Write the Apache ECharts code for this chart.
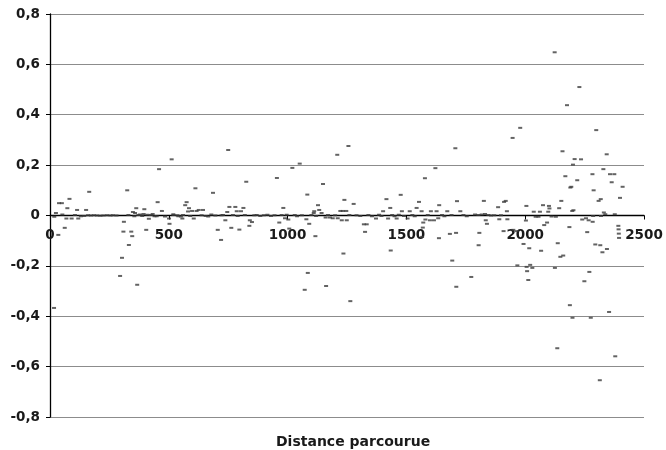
<!DOCTYPE html>
<html>
<head>
<meta charset="utf-8">
<script src="https://cdn.jsdelivr.net/npm/echarts@6/dist/echarts.min.js"></script>
<style>
  html, body { margin: 0; padding: 0; background: #fff; }
  #container { width: 666px; height: 450px; }
</style>
</head>
<body>
<div id="container"></div>
<script>
var distance = [
    17, 18, 25, 35, 38, 50, 52, 62, 69, 73, 82, 91, 105, 114, 119, 130, 144, 152, 160, 165,
    172, 185, 198, 212, 225, 240, 255, 265, 280, 295, 303, 309, 311, 325, 330, 332, 342, 346, 349, 355,
    358, 363, 367, 372, 379, 388, 394, 397, 405, 410, 416, 425, 432, 440, 449, 453, 459, 471, 484, 501,
    503, 512, 519, 520, 536, 540, 551, 557, 560, 569, 575, 581, 585, 590, 598, 605, 612, 617, 626, 638,
    644, 655, 666, 679, 686, 696, 706, 720, 722, 728, 738, 746, 750, 755, 763, 770, 780, 786, 790, 797,
    804, 814, 820, 826, 839, 841, 850, 860, 870, 885, 900, 915, 930, 945, 955, 965, 975, 982, 989, 996,
    1003, 1007, 1020, 1030, 1040, 1051, 1060, 1072, 1079, 1083, 1085, 1091, 1100, 1110, 1112, 1117, 1120, 1128, 1133, 1143,
    1149, 1160, 1162, 1170, 1178, 1190, 1200, 1209, 1211, 1222, 1228, 1233, 1235, 1239, 1247, 1249, 1256, 1260, 1264, 1278,
    1290, 1306, 1321, 1326, 1333, 1340, 1355, 1372, 1385, 1395, 1402, 1416, 1423, 1432, 1434, 1440, 1450, 1459, 1468, 1476,
    1481, 1490, 1505, 1514, 1525, 1535, 1543, 1553, 1564, 1566, 1569, 1571, 1578, 1580, 1590, 1599, 1603, 1616, 1622, 1627,
    1634, 1637, 1638, 1650, 1660, 1672, 1683, 1690, 1693, 1706, 1709, 1710, 1713, 1727, 1740, 1754, 1773, 1789, 1803, 1804,
    1807, 1817, 1826, 1831, 1834, 1839, 1845, 1856, 1870, 1886, 1891, 1898, 1909, 1911, 1918, 1923, 1925, 1947, 1950, 1964,
    1967, 1979, 1993, 2003, 2005, 2006, 2008, 2013, 2017, 2021, 2030, 2036, 2044, 2056, 2062, 2067, 2075, 2080, 2092, 2097,
    2100, 2102, 2111, 2124, 2125, 2129, 2135, 2137, 2143, 2148, 2152, 2157, 2160, 2169, 2176, 2186, 2188, 2190, 2194, 2198,
    2199, 2201, 2203, 2208, 2219, 2228, 2235, 2240, 2249, 2256, 2261, 2267, 2270, 2276, 2283, 2284, 2286, 2288, 2295, 2299,
    2309, 2314, 2316, 2318, 2319, 2325, 2329, 2331, 2337, 2343, 2344, 2353, 2357, 2364, 2375, 2377, 2379, 2392, 2393, 2394,
    2395, 2399, 2410
];
var ecart = [
    -0.367, -0.005, 0.010, -0.077, 0.049, 0.049, 0.004, -0.049, -0.012, 0.029, 0.066, -0.012, 0.002, 0.022, -0.012, -0.003, -0.002, 0.022, 0.001, 0.094,
    0.000, 0.001, 0.000, -0.001, 0.000, 0.001, 0.000, 0.001, 0.000, -0.240, -0.168, -0.064, -0.025, 0.100, 0.002, -0.117, -0.064, -0.082, 0.014, -0.003,
    0.010, 0.029, -0.275, 0.002, 0.004, -0.002, 0.006, 0.025, -0.057, 0.003, -0.013, 0.002, 0.006, -0.003, -0.003, 0.053, 0.184, 0.018, -0.004, -0.012,
    -0.033, 0.223, 0.005, 0.002, 0.001, -0.003, -0.004, -0.012, 0.002, 0.041, 0.053, 0.016, 0.029, -0.002, 0.018, -0.012, 0.108, 0.018, 0.022, 0.001,
    0.022, -0.002, -0.004, 0.004, 0.090, 0.000, -0.057, -0.097, 0.001, 0.002, -0.019, 0.014, 0.260, 0.034, -0.049, 0.002, 0.034, 0.017, -0.002, -0.056,
    0.017, 0.030, 0.002, 0.134, -0.041, -0.019, -0.026, 0.001, 0.002, -0.002, 0.001, 0.003, -0.002, 0.001, 0.149, -0.028, 0.002, 0.030, -0.011, 0.003,
    -0.016, -0.052, 0.189, 0.002, -0.003, 0.206, 0.001, -0.295, -0.015, 0.083, -0.228, -0.033, 0.002, 0.010, 0.017, -0.082, -0.002, 0.041, 0.022, 0.010,
    0.125, -0.008, -0.280, 0.002, -0.008, -0.011, 0.001, 0.241, -0.011, 0.018, -0.019, 0.018, -0.151, 0.062, 0.018, -0.019, 0.276, 0.002, -0.340, 0.046,
    0.001, -0.002, -0.035, -0.065, -0.035, 0.002, -0.003, -0.012, 0.003, -0.002, 0.017, 0.065, -0.012, 0.030, -0.139, 0.002, -0.003, -0.012, 0.003, 0.082,
    0.017, -0.002, -0.012, 0.017, 0.002, -0.003, 0.030, 0.054, 0.017, -0.085, -0.048, -0.028, 0.148, -0.016, 0.002, -0.019, 0.017, -0.019, 0.188, 0.017,
    -0.011, -0.090, 0.041, 0.002, -0.003, 0.017, -0.073, 0.002, -0.179, 0.267, -0.069, -0.283, 0.057, 0.017, 0.002, -0.003, -0.244, 0.004, 0.002, -0.118,
    -0.069, 0.004, 0.058, 0.006, -0.019, -0.033, 0.002, 0.000, 0.001, 0.033, -0.015, 0.001, -0.062, 0.054, 0.058, 0.017, -0.015, 0.308, -0.057, -0.062,
    -0.198, 0.348, -0.113, -0.020, 0.038, -0.204, -0.221, -0.256, -0.130, -0.196, -0.208, 0.015, -0.005, -0.005, 0.015, -0.140, 0.041, -0.038, -0.028, 0.015,
    0.038, 0.028, -0.004, 0.648, -0.208, -0.005, -0.527, -0.110, 0.029, -0.164, 0.058, 0.255, -0.159, 0.156, 0.438, -0.046, -0.356, 0.111, 0.114, 0.018,
    -0.406, 0.202, 0.021, 0.224, 0.140, 0.510, 0.223, -0.016, -0.261, -0.011, -0.066, -0.019, -0.224, -0.406, 0.164, -0.025, -0.002, 0.100, -0.115, 0.339,
    0.058, -0.654, -0.118, 0.065, -0.002, -0.146, 0.184, 0.012, 0.005, 0.243, -0.133, -0.383, 0.164, 0.132, 0.164, 0.005, -0.559, -0.041, -0.055, -0.072,
    -0.089, 0.070, 0.114
];
var xTicks = { min: 0, max: 2500, interval: 500 };
var yTicks = { min: -0.8, max: 0.8, interval: 0.2 };
var axisTitle = 'Distance parcourue';

var points = [];
for (var i = 0; i < distance.length; i++) {
    points.push([distance[i], ecart[i]]);
}

var dom = document.getElementById("container");
var myChart = echarts.init(dom, null, { renderer: 'canvas' });

var gridTop = 14;
var gridBottom = 33;
var plotHeight = 450 - gridTop - gridBottom;

var labelFont = {
    fontFamily: 'DejaVu Sans',
    fontWeight: 'bold',
    fontSize: 13.5,
    color: '#1a1a1a'
};

var option = {
    animation: false,
    backgroundColor: '#fff',
    title: {
        text: axisTitle,
        left: 271,
        top: 430,
        textStyle: { fontFamily: 'DejaVu Sans', fontWeight: 'bold', fontSize: 14, color: '#1a1a1a' }
    },
    grid: {
        left: 50,
        right: 22,
        top: gridTop,
        bottom: gridBottom
    },
    xAxis: {
        type: 'value',
        position: 'bottom',
        // l'axe des x croise l'axe des y en 0 : on le remonte au milieu
        offset: -plotHeight / 2,
        min: xTicks.min,
        max: xTicks.max,
        interval: xTicks.interval,
        axisLine: { onZero: false, lineStyle: { color: '#000', width: 1.3 } },
        axisTick: { show: true, inside: false, length: 4, lineStyle: { color: '#000' } },
        axisLabel: Object.assign({
            margin: 13,
            formatter: function (v) { return String(v); }
        }, labelFont),
        splitLine: { show: false }
    },
    yAxis: {
        type: 'value',
        min: yTicks.min,
        max: yTicks.max,
        interval: yTicks.interval,
        axisLine: { show: true, onZero: false, lineStyle: { color: '#000', width: 1.3 } },
        axisTick: { show: true, length: 4, lineStyle: { color: '#000' } },
        axisLabel: Object.assign({
            margin: 10,
            formatter: function (v) {
                if (Math.abs(v) < 1e-9) return '0';
                return v.toFixed(1).replace('.', ',');
            }
        }, labelFont),
        splitLine: { show: true, lineStyle: { color: '#8c8c8c', width: 1 } }
    },
    series: [
        {
            name: 'écart',
            type: 'scatter',
            data: points,
            symbol: 'rect',
            symbolSize: [4, 2],
            itemStyle: { color: '#3c3c3c' }
        }
    ]
};

if (option && typeof option === 'object') {
    myChart.setOption(option);
}
</script>
</body>
</html>
